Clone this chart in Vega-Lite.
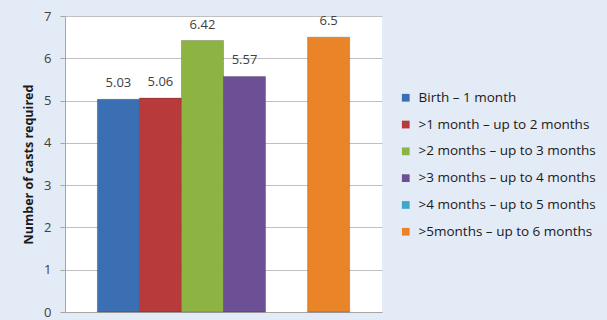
{
  "$schema": "https://vega.github.io/schema/vega-lite/v6.json",
  "autosize": {"type": "none"},
  "padding": {"left": 65, "top": 16, "right": 225, "bottom": 8},
  "width": 317,
  "height": 296,
  "background": "#e3ebf6",
  "config": {
    "view": {"fill": "white", "stroke": null},
    "font": "Open Sans"
  },
  "data": {
    "values": [
      {"group": "Birth – 1 month", "value": 5.03},
      {"group": ">1 month – up to 2 months", "value": 5.06},
      {"group": ">2 months – up to 3 months", "value": 6.42},
      {"group": ">3 months – up to 4 months", "value": 5.57},
      {"group": ">5months – up to 6 months", "value": 6.5}
    ]
  },
  "encoding": {
    "x": {
      "field": "group",
      "type": "nominal",
      "sort": null,
      "scale": {
        "domain": ["Birth – 1 month", ">1 month – up to 2 months", ">2 months – up to 3 months", ">3 months – up to 4 months", ">4 months – up to 5 months", ">5months – up to 6 months"],
        "paddingInner": 0,
        "paddingOuter": 0.77
      },
      "axis": {"title": null, "labels": false, "ticks": false, "domainColor": "#a6a6a6", "grid": false}
    },
    "y": {
      "field": "value",
      "type": "quantitative",
      "scale": {"domain": [0, 7], "nice": false},
      "axis": {
        "title": "Number of casts required",
        "titleFontSize": 12.5,
        "titleFontWeight": "bold",
        "titleColor": "#1a1a1a",
        "titlePadding": 8,
        "values": [0, 1, 2, 3, 4, 5, 6, 7],
        "labelFontSize": 13,
        "labelColor": "#404040",
        "labelPadding": 9,
        "labelOverlap": false,
        "tickSize": 5,
        "tickColor": "#a6a6a6",
        "domainColor": "#a6a6a6",
        "gridColor": "#c0c0c0"
      }
    }
  },
  "layer": [
    {
      "mark": {"type": "bar", "strokeWidth": 1, "stroke": "#00000033"},
      "encoding": {
        "color": {
          "field": "group",
          "type": "nominal",
          "scale": {
            "domain": ["Birth – 1 month", ">1 month – up to 2 months", ">2 months – up to 3 months", ">3 months – up to 4 months", ">4 months – up to 5 months", ">5months – up to 6 months"],
            "range": ["#3b6fb3", "#b83a3a", "#8db443", "#6d4f96", "#3ea8c8", "#ea8428"]
          },
          "legend": {
            "title": null,
            "orient": "none",
            "legendX": 334,
            "legendY": 75,
            "symbolType": "square",
            "symbolSize": 60,
            "symbolStrokeWidth": 0,
            "labelFontSize": 13.5,
            "labelColor": "#1a1a1a",
            "labelOffset": 6,
            "rowPadding": 11.8,
            "labelLimit": 300
          }
        }
      }
    },
    {
      "mark": {"type": "text", "dy": -16, "fontSize": 13, "color": "#404040"},
      "encoding": {"text": {"field": "value", "type": "quantitative"}}
    }
  ]
}
